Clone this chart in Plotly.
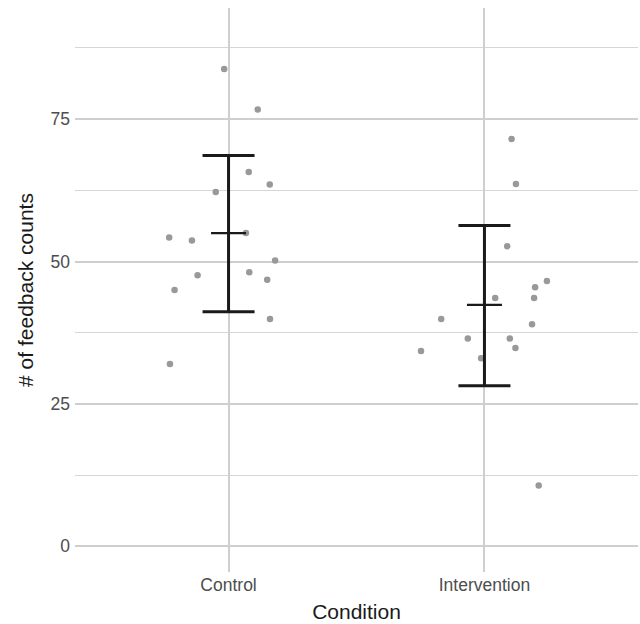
import plotly.graph_objects as go

# ---- data ----
categories = ["Control", "Intervention"]
cat_pos = [1, 2]

control_values = [83.8, 76.7, 65.7, 63.5, 62.2, 54.2, 53.7, 55.0, 50.2, 47.6, 48.1, 46.8, 45.0, 39.9, 32.0]
control_jitter = [-0.017, 0.114, 0.079, 0.161, -0.050, -0.232, -0.143, 0.068, 0.182, -0.121, 0.081, 0.151, -0.211, 0.162, -0.229]

intervention_values = [71.5, 63.6, 52.7, 46.6, 45.5, 43.6, 43.6, 39.9, 39.0, 36.5, 36.5, 34.3, 34.8, 33.0, 10.7]
intervention_jitter = [0.106, 0.123, 0.089, 0.244, 0.198, 0.194, 0.042, -0.169, 0.186, -0.065, 0.099, -0.248, 0.121, -0.013, 0.212]

means = [55.0, 42.4]
upper = [68.6, 56.3]
lower = [41.2, 28.2]

y_ticks = [0, 25, 50, 75]
y_minor = [12.5, 37.5, 62.5, 87.5]

# ---- figure ----
fig = go.Figure()

groups = [(control_values, control_jitter, cat_pos[0]), (intervention_values, intervention_jitter, cat_pos[1])]
for vals, jit, c in groups:
    fig.add_trace(go.Scatter(
        x=[c + j for j in jit], y=vals, mode="markers",
        marker=dict(color="#999999", size=6.5, line=dict(width=0)),
        showlegend=False, hoverinfo="y",
    ))

fig.add_trace(go.Scatter(
    x=cat_pos, y=means, mode="markers",
    marker=dict(symbol="line-ew", size=25, color="#1a1a1a", line=dict(width=2.2, color="#1a1a1a")),
    error_y=dict(type="data", symmetric=False,
                 array=[u - m for u, m in zip(upper, means)],
                 arrayminus=[m - l for m, l in zip(means, lower)],
                 width=26, thickness=3, color="#1a1a1a"),
    showlegend=False,
))

fig.update_layout(
    width=640, height=624,
    margin=dict(l=75, r=2, t=8, b=52),
    paper_bgcolor="white", plot_bgcolor="white",
    font=dict(family="Liberation Sans, Arial, sans-serif", color="#1a1a1a"),
    xaxis=dict(
        range=[0.4, 2.6], tickvals=cat_pos, ticktext=categories,
        showgrid=True, gridcolor="#cfcfcf", gridwidth=2,
        zeroline=False, showline=False, ticks="",
        tickfont=dict(size=17.5, color="#4d4d4d"),
        title=dict(text="Condition", font=dict(size=21, color="#1a1a1a"), standoff=10),
        automargin=False,
    ),
    yaxis=dict(
        range=[-4.5, 94.5], tickvals=y_ticks,
        showgrid=True, gridcolor="#cfcfcf", gridwidth=2,
        minor=dict(tickvals=y_minor, showgrid=True, gridcolor="#d6d6d6", gridwidth=1.2),
        zeroline=False, showline=False, ticks="",
        ticklabelstandoff=4,
        tickfont=dict(size=17.5, color="#4d4d4d"),
        title=dict(text="# of feedback counts", font=dict(size=21, color="#1a1a1a"), standoff=11),
        automargin=False,
    ),
)

fig.write_html("out.html")
